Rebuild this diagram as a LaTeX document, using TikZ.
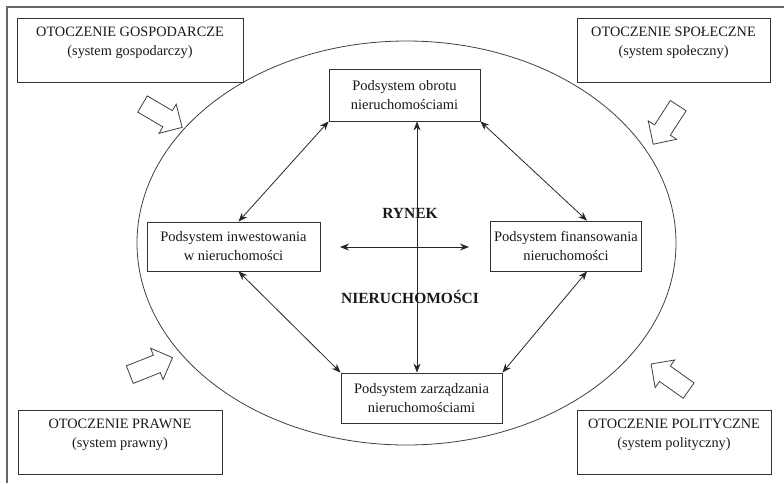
\documentclass[tikz,border=0pt]{standalone}
\usepackage{fontspec}
\setmainfont{Liberation Serif}
\usetikzlibrary{positioning, arrows.meta, shapes.arrows, calc}

\begin{document}
\begin{tikzpicture}[x=1pt, y=-1pt, >={Stealth[length=9pt, width=7pt]},
    envbox/.style={rectangle, draw=black!80, line width=0.8pt, fill=white, align=center,
      font=\fontsize{14.3}{19}\selectfont, text=black!90, text depth=17pt},
    subbox/.style={rectangle, draw=black!80, line width=0.8pt, fill=white, align=center,
      font=\fontsize{14.5}{19}\selectfont, text=black!90},
    blockarr/.style={single arrow, draw=black!75, line width=0.8pt, fill=white, inner sep=9pt,
      minimum height=46pt, minimum width=33pt, single arrow head extend=7.5pt},
    market/.style={font=\fontsize{15.5}{18}\bfseries\selectfont, text=black!90},
    link/.style={<->, line width=0.8pt, draw=black!85}]
  \useasboundingbox (0,0) rectangle (784,483);
  % frame and market ellipse
  \draw[line width=1.2pt, black!60] (784,7) -- (7,7) -- (7,483);
  \draw[line width=0.8pt, black!75] (406.5,243) ellipse [x radius=269.5, y radius=202];

  % environments
  \node[envbox, minimum width=226pt, minimum height=64pt] (gosp)  at (130,50)
    {OTOCZENIE GOSPODARCZE\\(system gospodarczy)};
  \node[envbox, minimum width=193pt, minimum height=64pt] (spol)  at (673.5,50)
    {OTOCZENIE SPOŁECZNE\\(system społeczny)};
  \node[envbox, minimum width=204pt, minimum height=64pt] (praw)  at (120,442)
    {OTOCZENIE PRAWNE\\(system prawny)};
  \node[envbox, minimum width=194pt, minimum height=64pt] (polit) at (674,442)
    {OTOCZENIE POLITYCZNE\\(system polityczny)};

  \node[blockarr, rotate=-30.5] (arrgosp)  at (158.3,113.3) {};
  \node[blockarr, rotate=-123]  (arrspol)  at (668.3,121)   {};
  \node[blockarr, rotate=21.7]  (arrpraw)  at (146.8,367.9) {};
  \node[blockarr, rotate=144.7] (arrpolit) at (673.7,380)   {};

  % subsystems
  \node[subbox, minimum width=151pt, minimum height=52pt] (obr)  at (404.5,95)
    {Podsystem obrotu\\nieruchomościami};
  \node[subbox, minimum width=173pt, minimum height=49pt] (inw)  at (233.5,246.5)
    {Podsystem inwestowania\\w nieruchomości};
  \node[subbox, minimum width=148pt, minimum height=50pt] (fin)  at (566,246)
    {Podsystem finansowania\\nieruchomości};
  \node[subbox, minimum width=161pt, minimum height=50pt] (zarz) at (421.5,398)
    {Podsystem zarządzania\\nieruchomościami};

  \node[market] (rynek)   at (410,213) {RYNEK};
  \node[market] (nieruch) at (410,297) {NIERUCHOMOŚCI};

  \coordinate (axis) at (417,0);
  \coordinate (hl) at (340,247);
  \coordinate (hr) at (469,247);

  \draw[link] (obr.south west) -- ([xshift=5pt]inw.north);
  \draw[link] (obr.south east) -- ([xshift=21pt]fin.north);
  \draw[link] ([xshift=5pt]inw.south) -- (zarz.north west);
  \draw[link] ([xshift=21pt]fin.south) -- (zarz.north east);
  \draw[link] (obr.south -| axis) -- (zarz.north -| axis);
  \draw[link] (hl) -- (hr);
\end{tikzpicture}
\end{document}
